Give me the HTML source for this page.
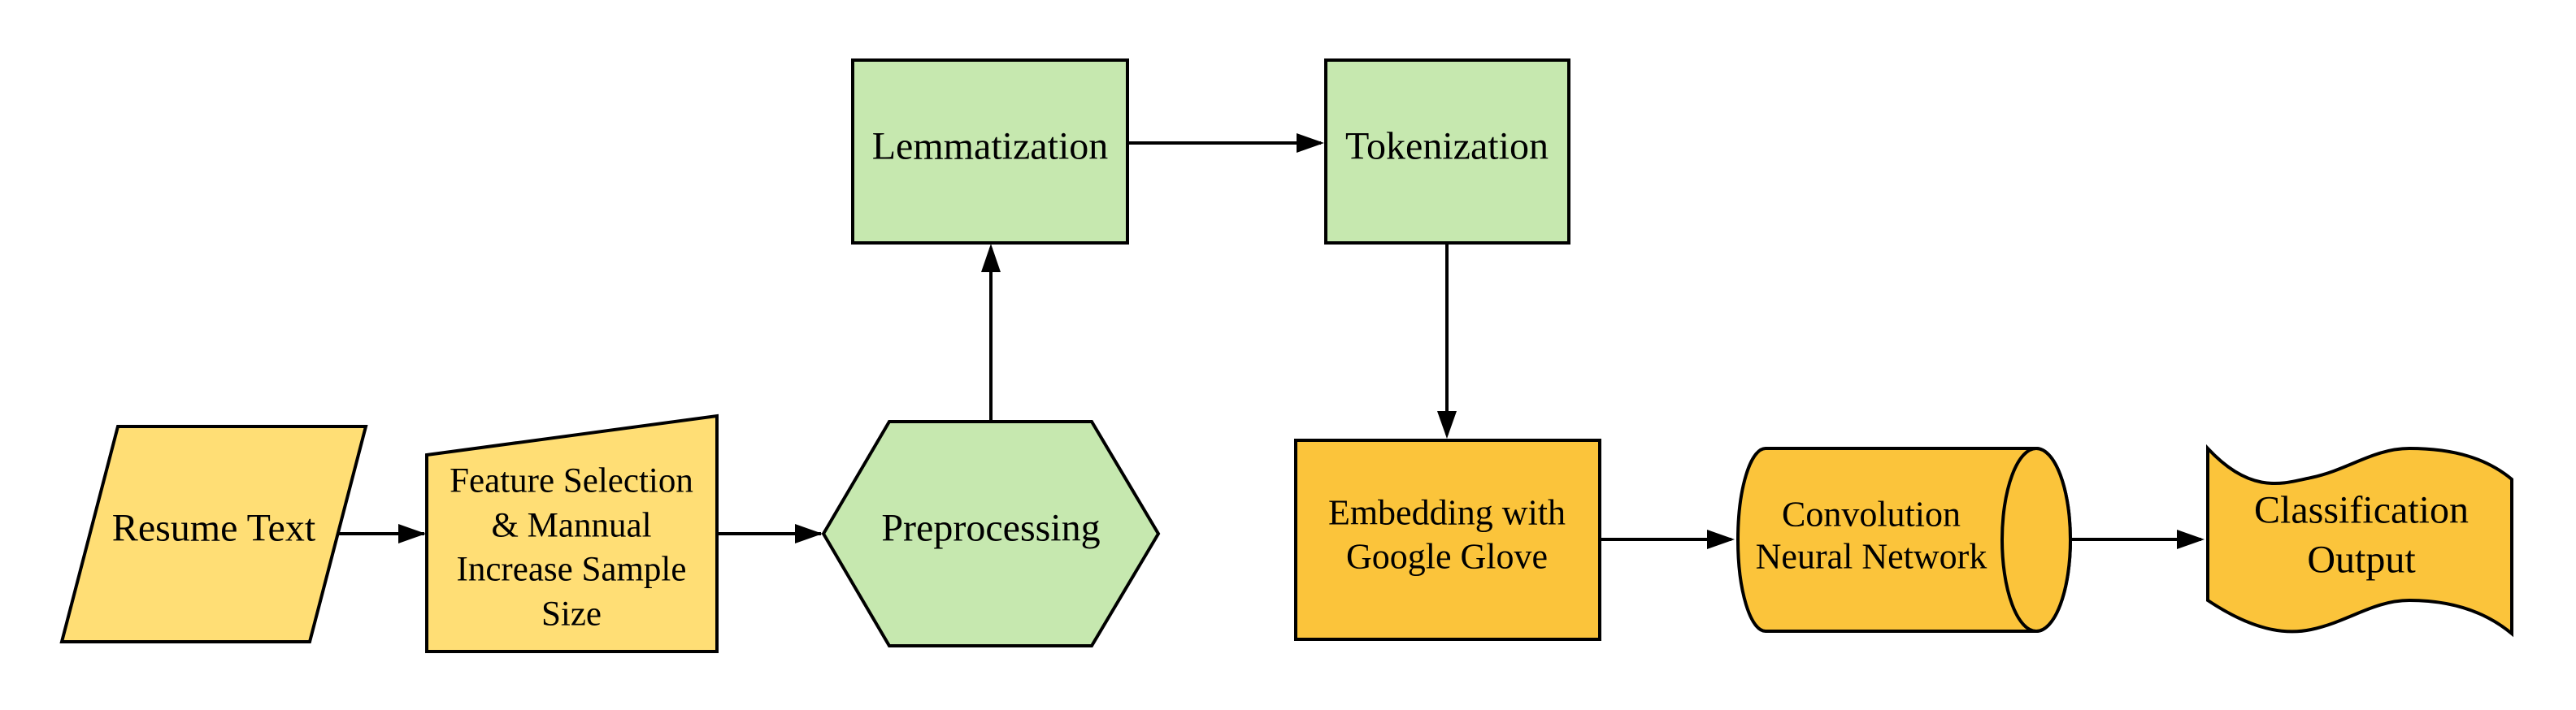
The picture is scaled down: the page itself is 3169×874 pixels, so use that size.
<!DOCTYPE html>
<html><head><meta charset="utf-8"><style>
html,body{margin:0;padding:0;background:#fff;}
svg{display:block;}
text{font-family:"Liberation Serif",serif;fill:#000;text-anchor:middle;dominant-baseline:central;}
</style></head><body>
<svg width="3169" height="874" viewBox="0 0 3169 874" xmlns="http://www.w3.org/2000/svg">
<g stroke="#000" stroke-width="4">
<line x1="416" y1="657" x2="522" y2="657"/>
<path d="M490,645 L524,657 L490,669 Z" fill="#000" stroke="none"/>
<line x1="882" y1="657" x2="1010" y2="657"/>
<path d="M978,645 L1012,657 L978,669 Z" fill="#000" stroke="none"/>
<line x1="1219" y1="517" x2="1219" y2="305"/>
<path d="M1207,335 L1219,300 L1231,335 Z" fill="#000" stroke="none"/>
<line x1="1387" y1="176" x2="1625" y2="176"/>
<path d="M1595,164 L1629,176 L1595,188 Z" fill="#000" stroke="none"/>
<line x1="1780" y1="299" x2="1780" y2="535"/>
<path d="M1768,506 L1780,540 L1792,506 Z" fill="#000" stroke="none"/>
<line x1="1968" y1="664" x2="2130" y2="664"/>
<path d="M2100,652 L2134,664 L2100,676 Z" fill="#000" stroke="none"/>
<line x1="2547" y1="664" x2="2708" y2="664"/>
<path d="M2678,652 L2712,664 L2678,676 Z" fill="#000" stroke="none"/>

<polygon points="145,525 450,525 381,790 76,790" fill="#FFDE75"/>
<polygon points="525,560 882,512 882,802 525,802" fill="#FFDE75"/>
<polygon points="1013,657 1094,519 1343,519 1425,657 1343,795 1094,795" fill="#C6E8AF"/>
<rect x="1049" y="74" width="338" height="225" fill="#C6E8AF"/>
<rect x="1631" y="74" width="299" height="225" fill="#C6E8AF"/>
<rect x="1594" y="542" width="374" height="245" fill="#FBC43B"/>
<path d="M2172,552 L2505,552 A42,112.5 0 0 1 2505,777 L2172,777 A34,112.5 0 0 1 2172,552 Z" fill="#FBC43B"/>
<ellipse cx="2505" cy="664.5" rx="42" ry="112.5" fill="#FBC43B"/>
<path d="M2716,552 C2770,610 2810,595 2843,588 C2890,578 2920,552 2964,552 C3020,552 3060,565 3090,590 L3090,780 C3060,755 3020,739 2964,739 C2920,739 2890,765 2843,775 C2810,782 2770,775 2716,739 Z" fill="#FBC43B"/>
</g>
<text x="263" y="650" font-size="48">Resume Text</text>
<text x="703" y="592" font-size="43">Feature Selection</text>
<text x="703" y="647" font-size="43">&amp; Mannual</text>
<text x="703" y="701" font-size="43">Increase Sample</text>
<text x="703" y="756" font-size="43">Size</text>
<text x="1219" y="650" font-size="48">Preprocessing</text>
<text x="1218" y="180" font-size="48">Lemmatization</text>
<text x="1780" y="180" font-size="48">Tokenization</text>
<text x="1780" y="631" font-size="44">Embedding with</text>
<text x="1780" y="685" font-size="44">Google Glove</text>
<text x="2302" y="633" font-size="44">Convolution</text>
<text x="2302" y="685" font-size="44">Neural Network</text>
<text x="2905" y="628" font-size="48">Classification</text>
<text x="2905" y="689" font-size="48">Output</text>
</svg>
</body></html>
